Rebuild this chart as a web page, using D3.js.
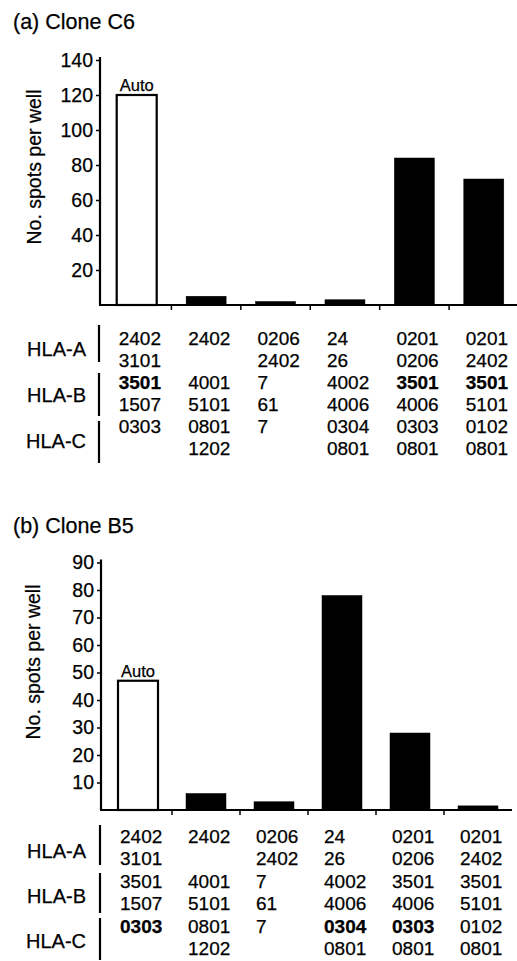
<!DOCTYPE html>
<html>
<head>
<meta charset="utf-8">
<script src="https://cdn.jsdelivr.net/npm/d3@7"></script>
<style>
  html, body { margin: 0; padding: 0; background: #fff; }
  svg { display: block; font-family: "Liberation Sans", Arial, Helvetica, sans-serif; }
  svg text { stroke: #000; stroke-width: 0.25px; }
</style>
</head>
<body>
<svg id="chart" width="517" height="961"></svg>
<script>
// ---- data ----
const donors = ["D1", "D2", "D3", "D4", "D5", "D6"];
const autoLabel = "Auto";
const valuesC6 = [120, 5, 2, 3, 84, 72];
const valuesB5 = [47, 6, 3, 78, 28, 1.5];
const ticksC6 = [20, 40, 60, 80, 100, 120, 140];
const ticksB5 = [10, 20, 30, 40, 50, 60, 70, 80, 90];
const hlaLoci = ["HLA-A", "HLA-B", "HLA-C"];
const hlaA = [["2402", "3101"], ["2402", ""], ["0206", "2402"], ["24", "26"], ["0201", "0206"], ["0201", "2402"]];
const hlaB = [["3501", "1507"], ["4001", "5101"], ["7", "61"], ["4002", "4006"], ["3501", "4006"], ["3501", "5101"]];
const hlaC = [["0303", ""], ["0801", "1202"], ["7", ""], ["0304", "0801"], ["0303", "0801"], ["0102", "0801"]];
// bold first allele: [locus index, donor indices]
const boldC6 = { locus: 1, donors: [0, 4, 5] };
const boldB5 = { locus: 2, donors: [0, 3, 4] };
const titleC6 = "(a) Clone C6";
const titleB5 = "(b) Clone B5";
const yLabel = "No. spots per well";

const svg = d3.select("#chart");

function panel(cfg) {
  const g = svg.append("g");
  // title
  g.append("text").attr("x", 13).attr("y", cfg.titleY)
    .attr("font-size", 21.5).attr("fill", "#000").text(cfg.title);

  const y = d3.scaleLinear().domain([0, cfg.max]).range([cfg.y0, cfg.yTop]);
  const x = d3.scaleBand().domain(donors).range(cfg.xRange).paddingInner(0).paddingOuter(0);
  const barW = 40;

  // y axis
  const yAxis = d3.axisLeft(y).tickValues(cfg.ticks).tickSize(4).tickPadding(3);
  const ya = g.append("g").attr("transform", `translate(${cfg.axisX},0)`).call(yAxis);
  ya.attr("font-family", null).attr("font-size", null);
  ya.select(".domain").attr("stroke-width", 2.2).attr("d", `M0,${cfg.y0}V${y(cfg.max) - 3}`);
  ya.selectAll(".tick line").attr("stroke-width", 1.5);
  ya.selectAll(".tick text").attr("font-size", 19.5).attr("fill", "#000");

  // y label
  g.append("text")
    .attr("transform", `translate(${cfg.yLabelX},${cfg.yLabelY}) rotate(-90)`)
    .attr("text-anchor", "middle").attr("font-size", 19.5).attr("fill", "#000")
    .text(yLabel);

  // bars
  g.selectAll("rect.bar").data(cfg.values).join("rect")
    .attr("class", "bar")
    .attr("x", (d, i) => x(donors[i]) + x.bandwidth() / 2 - barW / 2)
    .attr("width", barW)
    .attr("y", d => y(d))
    .attr("height", d => cfg.y0 - y(d))
    .attr("fill", (d, i) => i === 0 ? "#fff" : "#000")
    .attr("stroke", "#000")
    .attr("stroke-width", (d, i) => i === 0 ? 2.2 : 0.5);

  // Auto label
  g.append("text")
    .attr("x", x(donors[0]) + x.bandwidth() / 2)
    .attr("y", y(cfg.values[0]) - 4)
    .attr("text-anchor", "middle").attr("font-size", 16.5).attr("fill", "#000")
    .text(autoLabel);

  // x axis
  g.append("line").attr("x1", cfg.axisX - 1).attr("x2", cfg.xEnd)
    .attr("y1", cfg.y0).attr("y2", cfg.y0).attr("stroke", "#000").attr("stroke-width", 2.2);
  donors.slice(1).forEach(dn => {
    g.append("line").attr("x1", x(dn)).attr("x2", x(dn))
      .attr("y1", cfg.y0).attr("y2", cfg.y0 + 5).attr("stroke", "#000").attr("stroke-width", 1.5);
  });

  // HLA table
  const loci = [hlaA, hlaB, hlaC];
  loci.forEach((rows, li) => {
    g.append("text").attr("x", 86).attr("y", cfg.labelY[li])
      .attr("text-anchor", "end").attr("font-size", 20).attr("fill", "#000")
      .text(hlaLoci[li]);
    g.append("line").attr("x1", cfg.sepX).attr("x2", cfg.sepX)
      .attr("y1", cfg.sep[li][0]).attr("y2", cfg.sep[li][1])
      .attr("stroke", "#000").attr("stroke-width", 2.2);
    rows.forEach((alleles, di) => {
      alleles.forEach((al, ai) => {
        if (!al) return;
        const bold = cfg.bold.locus === li && ai === 0 && cfg.bold.donors.includes(di);
        g.append("text")
          .attr("x", x(donors[di]) + x.bandwidth() / 2 - barW / 2 + cfg.colShift)
          .attr("y", cfg.rowY0 + (li * 2 + ai) * cfg.rowStep)
          .attr("font-size", 19).attr("fill", "#000")
          .attr("font-weight", bold ? "bold" : "normal")
          .text(al);
      });
    });
  });
}

panel({
  title: titleC6, titleY: 29, values: valuesC6, max: 140, ticks: ticksC6,
  y0: 305, yTop: 60, axisX: 100, xRange: [102, 518.5], xEnd: 517,
  yLabelX: 41, yLabelY: 167,
  labelY: [356, 402, 448], sepX: 99, sep: [[325, 362], [373, 416], [421, 463]],
  rowY0: 345, rowStep: 22, colShift: 2, bold: boldC6
});

panel({
  title: titleB5, titleY: 533, values: valuesB5, max: 90, ticks: ticksB5,
  y0: 810, yTop: 562.5, axisX: 101, xRange: [104, 512], xEnd: 512,
  yLabelX: 40, yLabelY: 662,
  labelY: [858, 903, 948], sepX: 100, sep: [[825, 865], [873, 913], [918, 960]],
  rowY0: 843, rowStep: 22.4, colShift: 2, bold: boldB5
});
</script>
</body>
</html>
